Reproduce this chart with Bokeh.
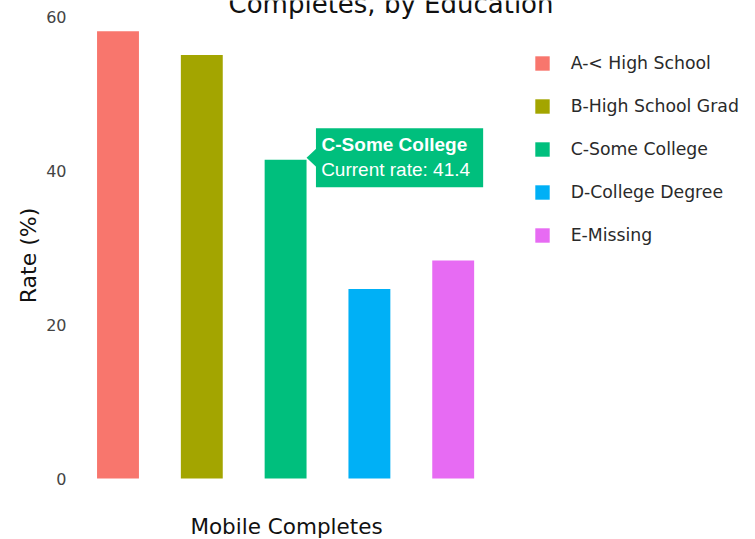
from bokeh.plotting import figure
from bokeh.models import (Range1d, FixedTicker, Legend, LegendItem, Label, Title,
                          BoxAnnotation, PolyAnnotation, ColumnDataSource)
from bokeh.embed import file_html
from bokeh.resources import INLINE

# ---- data ----
categories = ["A-< High School", "B-High School Grad", "C-Some College",
              "D-College Degree", "E-Missing"]
rates = [58.1, 55.0, 41.4, 24.6, 28.3]
colors = ["#F8766D", "#A3A500", "#00BF7D", "#00B0F6", "#E76BF3"]
y_ticks = [0, 20, 40, 60]
title_text = "Completes, by Education"
x_title = "Mobile Completes"
y_title = "Rate (%)"
highlight = "C-Some College"

# ---- layout constants ----
W, H = 755, 539
BL, BR, BT, BB = 76, 10, 0, 0
Z = 478                      # canvas y of the zero line
frame_w = W - BL - BR
PX_PER_CAT = 83.8
PX_PER_UNIT = 7.7
x_start = -41.5 / PX_PER_CAT
y_start = -(H - BB - Z) / PX_PER_UNIT
y_end = y_start + (H - BT - BB) / PX_PER_UNIT

p = figure(width=W, height=H, output_backend="svg", toolbar_location=None,
           x_range=Range1d(x_start, x_start + frame_w / PX_PER_CAT),
           y_range=Range1d(y_start, y_end),
           min_border_left=BL, min_border_right=BR,
           min_border_top=BT, min_border_bottom=BB,
           styles={"position": "absolute", "top": "0px", "left": "0px"})
p.outline_line_color = None
p.xgrid.visible = False
p.ygrid.visible = False
p.xaxis.visible = False
p.background_fill_color = "white"
p.border_fill_color = "white"

yax = p.yaxis[0]
yax.ticker = FixedTicker(ticks=y_ticks)
yax.axis_line_color = None
yax.major_tick_line_color = None
yax.minor_tick_line_color = None
yax.major_tick_out = 0
yax.major_tick_in = 0
yax.major_label_standoff = 10
yax.major_label_text_font = "DejaVu Sans"
yax.major_label_text_font_size = "16px"
yax.major_label_text_color = "#444444"

idx = list(range(len(categories)))
src = ColumnDataSource(dict(x=idx, top=rates, cat=categories, color=colors))
r = p.vbar(x="x", top="top", bottom=0, width=0.5, fill_color="color",
           line_color=None, source=src)

fb = H - BB  # frame bottom in canvas px
item_h, spacing = 20, 23
leg_h = 5 * item_h + 4 * spacing
items = [LegendItem(label=c, renderers=[r], index=i) for i, c in enumerate(categories)]
legend = Legend(items=items, location=(532.7 - BL, fb - 52.5 - leg_h),
                glyph_width=18, glyph_height=18, label_standoff=20, spacing=spacing,
                padding=0, margin=0, border_line_color=None,
                background_fill_alpha=0, label_text_font="DejaVu Sans",
                label_text_font_size="17.3px", label_text_color="#2a2a2a",
                label_height=item_h)
p.add_layout(legend)

# chart title (its top is cut by the page edge, as in the original)
p.add_layout(Label(x=390.5 - BL, y=fb - 3, x_units="screen", y_units="screen",
                   text=title_text, text_font="DejaVu Sans", text_font_size="26px",
                   text_align="center", text_baseline="alphabetic", text_color="#111111"))
# x-axis title
p.add_layout(Label(x=286 - BL, y=fb - 526, x_units="screen", y_units="screen",
                   text=x_title, text_font="DejaVu Sans", text_font_size="21.5px",
                   text_align="center", text_baseline="alphabetic", text_color="#111111"))
# y-axis title in the left panel
p.add_layout(Title(text=y_title, align="left", offset=fb - 302.7, standoff=5,
                   text_font="DejaVu Sans", text_font_size="22px",
                   text_font_style="normal", text_color="#111111"), "left")

# ---- hover-style callout on the highlighted bar ----
hi = categories.index(highlight)
ax = idx[hi] + 0.25
ay = rates[hi]
dx = 1.0 / PX_PER_CAT
dy = 1.0 / PX_PER_UNIT
hcol = colors[hi]
p.add_layout(BoxAnnotation(left=ax + 9.4 * dx, right=ax + 176.6 * dx,
                           top=ay + 31.4 * dy, bottom=ay - 27.5 * dy,
                           fill_color=hcol, fill_alpha=1, line_color=None,
                           level="overlay"))
p.add_layout(PolyAnnotation(xs=[ax, ax + 9.6 * dx, ax + 9.6 * dx],
                            ys=[ay + 2 * dy, ay + 11 * dy, ay - 7 * dy],
                            fill_color=hcol, fill_alpha=1, line_color=None,
                            level="overlay"))
p.add_layout(Label(x=ax, y=ay, x_offset=15, y_offset=15.2, text=highlight,
                   text_font="Liberation Sans", text_font_style="bold",
                   text_font_size="19px", text_color="white",
                   text_baseline="alphabetic", level="overlay"))
p.add_layout(Label(x=ax, y=ay, x_offset=14.6, y_offset=-9.5,
                   text="Current rate: %.1f" % rates[hi],
                   text_font="Liberation Sans", text_font_size="19px",
                   text_color="white", text_baseline="alphabetic", level="overlay"))

open("out.html", "w").write(file_html(p, INLINE))
